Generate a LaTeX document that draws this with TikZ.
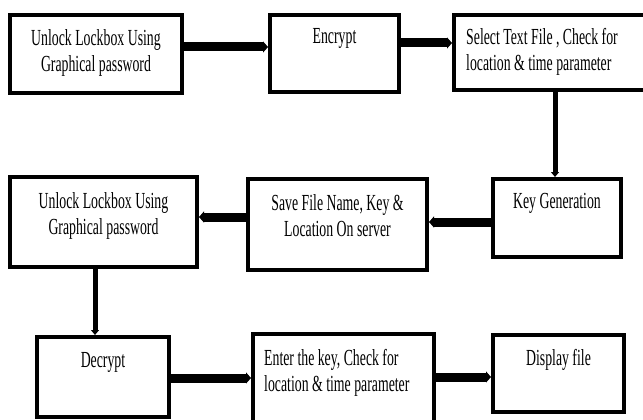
\documentclass[tikz,border=0pt]{standalone}
\usepackage{fontspec}
\setmainfont[FakeStretch=0.6]{Liberation Serif}
\usetikzlibrary{arrows.meta,calc}
\tikzset{
  box/.style={draw=black, line width=4pt, fill=white, rectangle, anchor=north west, inner sep=0pt},
  txt/.style={font=\fontsize{23}{26}\selectfont, inner sep=0pt, align=center},
  txtl/.style={font=\fontsize{23}{26}\selectfont, inner sep=0pt, align=left},
  harr/.style={line width=9pt, -{Triangle[length=5pt,width=11pt]}},
  varr/.style={line width=5pt, -{Triangle[length=5pt,width=8pt]}}
}
\begin{document}
\begin{tikzpicture}[x=1pt,y=-1pt]
\clip (0,0) rectangle (643,420);
\fill[white] (0,0) rectangle (643,420);
% boxes
\node[box, minimum width=172, minimum height=78] (b1) at (8,13) {};
\node[box, minimum width=129, minimum height=77] (b2) at (268,13) {};
\node[box, minimum width=200, minimum height=75] (b3) at (452,13) {};
\node[box, minimum width=128, minimum height=78] (b4) at (491,177) {};
\node[box, minimum width=179, minimum height=91] (b5) at (246,177) {};
\node[box, minimum width=187, minimum height=90] (b6) at (8,175) {};
\node[box, minimum width=132, minimum height=80] (b7) at (35,335) {};
\node[box, minimum width=181, minimum height=100] (b8) at (251,332) {};
\node[box, minimum width=131, minimum height=77] (b9) at (491,333) {};
% texts
\node[txt] (t1) at ($(b1.north)+(0,40)$) {Unlock Lockbox Using\\Graphical password};
\node[txt] (t2) at ($(b2.north)+(0,25)$) {Encrypt};
\node[txtl, anchor=west] (t3) at ($(b3.north west)+(14,39)$) {Select Text File , Check for\\location \& time parameter};
\node[txt] (t4) at ($(b4.north)+(0,26)$) {Key Generation};
\node[txt] (t5) at ($(b5.north)+(0,39)$) {Save File Name, Key \&\\Location On server};
\node[txt] (t6) at ($(b6.north)+(0,41)$) {Unlock Lockbox Using\\Graphical password};
\node[txt] (t7) at ($(b7.north)+(0,27)$) {Decrypt};
\node[txtl, anchor=west] (t8) at ($(b8.north west)+(13,41)$) {Enter the key, Check for\\location \& time parameter};
\node[txt] (t9) at ($(b9.north)+(0,27)$) {Display file};
% arrows
\draw[harr] (b1.east |- 0,47) -- (b2.west |- 0,47);
\draw[harr] (b2.east |- 0,43) -- (b3.west |- 0,43);
\draw[varr] (b3.south -| 555,0) -- (b4.north -| 555,0);
\draw[harr] (b4.west |- 0,222) -- (b5.east |- 0,222);
\draw[harr] (b5.west |- 0,217) -- (b6.east |- 0,217);
\draw[varr] (b6.south -| 95,0) -- (b7.north -| 95,0);
\draw[harr] (b7.east |- 0,378) -- (b8.west |- 0,378);
\draw[harr] (b8.east |- 0,377) -- (b9.west |- 0,377);
\end{tikzpicture}
\end{document}
